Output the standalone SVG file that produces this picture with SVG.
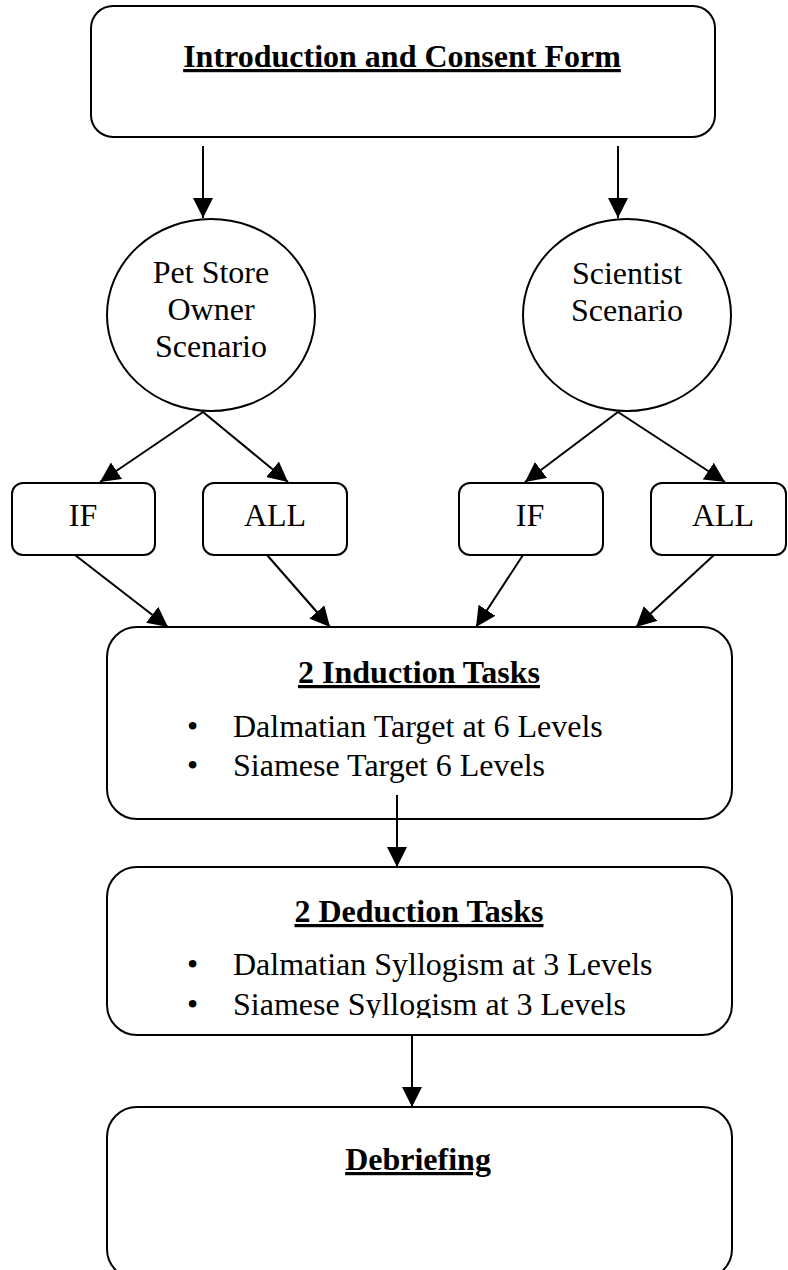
<svg xmlns="http://www.w3.org/2000/svg" width="788" height="1270" viewBox="0 0 788 1270">
<style>
.box{fill:#fff;stroke:#000;stroke-width:2}
.t{font-family:"Liberation Serif","Times New Roman",serif;font-size:32px;fill:#000}
.b{font-weight:bold;text-decoration:underline}
.m{text-anchor:middle}
.c{stroke:#000;stroke-width:2;fill:none;marker-end:url(#ah)}
</style>
<defs>
<marker id="ah" markerUnits="userSpaceOnUse" markerWidth="20" markerHeight="20" refX="20" refY="10" orient="auto">
<path d="M0,0 L20,10 L0,20 Z" fill="#000"/>
</marker>
<clipPath id="dclip"><rect x="100" y="860" width="640" height="158"/></clipPath>
</defs>
<rect width="788" height="1270" fill="#fff"/>
<g id="intro">
<rect class="box" x="91" y="6" width="624" height="131" rx="22"/>
<text class="t b m" x="402" y="67">Introduction and Consent Form</text>
</g>
<g id="petstore">
<ellipse class="box" cx="211" cy="315" rx="104" ry="96"/>
<text class="t m" x="211" y="283">Pet Store</text>
<text class="t m" x="211" y="320">Owner</text>
<text class="t m" x="211" y="357">Scenario</text>
</g>
<g id="scientist">
<ellipse class="box" cx="627" cy="315" rx="104" ry="96"/>
<text class="t m" x="627" y="284">Scientist</text>
<text class="t m" x="627" y="321">Scenario</text>
</g>
<g id="if1">
<rect class="box" x="12" y="483" width="143" height="72" rx="11"/>
<text class="t m" x="83" y="526">IF</text>
</g>
<g id="all1">
<rect class="box" x="203" y="483" width="144" height="72" rx="11"/>
<text class="t m" x="275" y="526">ALL</text>
</g>
<g id="if2">
<rect class="box" x="459" y="483" width="144" height="72" rx="11"/>
<text class="t m" x="530" y="526">IF</text>
</g>
<g id="all2">
<rect class="box" x="651" y="483" width="135" height="72" rx="11"/>
<text class="t m" x="723" y="526">ALL</text>
</g>
<g id="induction">
<rect class="box" x="107" y="627" width="625" height="192" rx="30"/>
<text class="t b m" x="419" y="683">2 Induction Tasks</text>
<text class="t" x="187" y="737">•</text>
<text class="t" x="233" y="737">Dalmatian Target at 6 Levels</text>
<text class="t" x="187" y="776">•</text>
<text class="t" x="233" y="776">Siamese Target 6 Levels</text>
</g>
<g id="deduction">
<rect class="box" x="107" y="867" width="625" height="168" rx="30"/>
<text class="t b m" x="419" y="922">2 Deduction Tasks</text>
<g clip-path="url(#dclip)">
<text class="t" x="187" y="975">•</text>
<text class="t" x="233" y="975">Dalmatian Syllogism at 3 Levels</text>
<text class="t" x="187" y="1015">•</text>
<text class="t" x="233" y="1015">Siamese Syllogism at 3 Levels</text>
</g>
</g>
<g id="debriefing">
<rect class="box" x="107" y="1107" width="625" height="172" rx="30"/>
<text class="t b m" x="418" y="1170">Debriefing</text>
</g>
<g id="connectors">
<line class="c" x1="203" y1="146" x2="203" y2="218"/>
<line class="c" x1="618" y1="146" x2="618" y2="218"/>
<line class="c" x1="203" y1="412" x2="100" y2="482"/>
<line class="c" x1="203" y1="412" x2="288" y2="482"/>
<line class="c" x1="618" y1="412" x2="525" y2="482"/>
<line class="c" x1="618" y1="412" x2="725" y2="482"/>
<line class="c" x1="75" y1="555" x2="168" y2="627"/>
<line class="c" x1="267" y1="555" x2="330" y2="627"/>
<line class="c" x1="523" y1="555" x2="476" y2="627"/>
<line class="c" x1="714" y1="555" x2="636" y2="627"/>
<line class="c" x1="397" y1="795" x2="397" y2="867"/>
<line class="c" x1="412" y1="1035" x2="412" y2="1107"/>
</g>
</svg>
